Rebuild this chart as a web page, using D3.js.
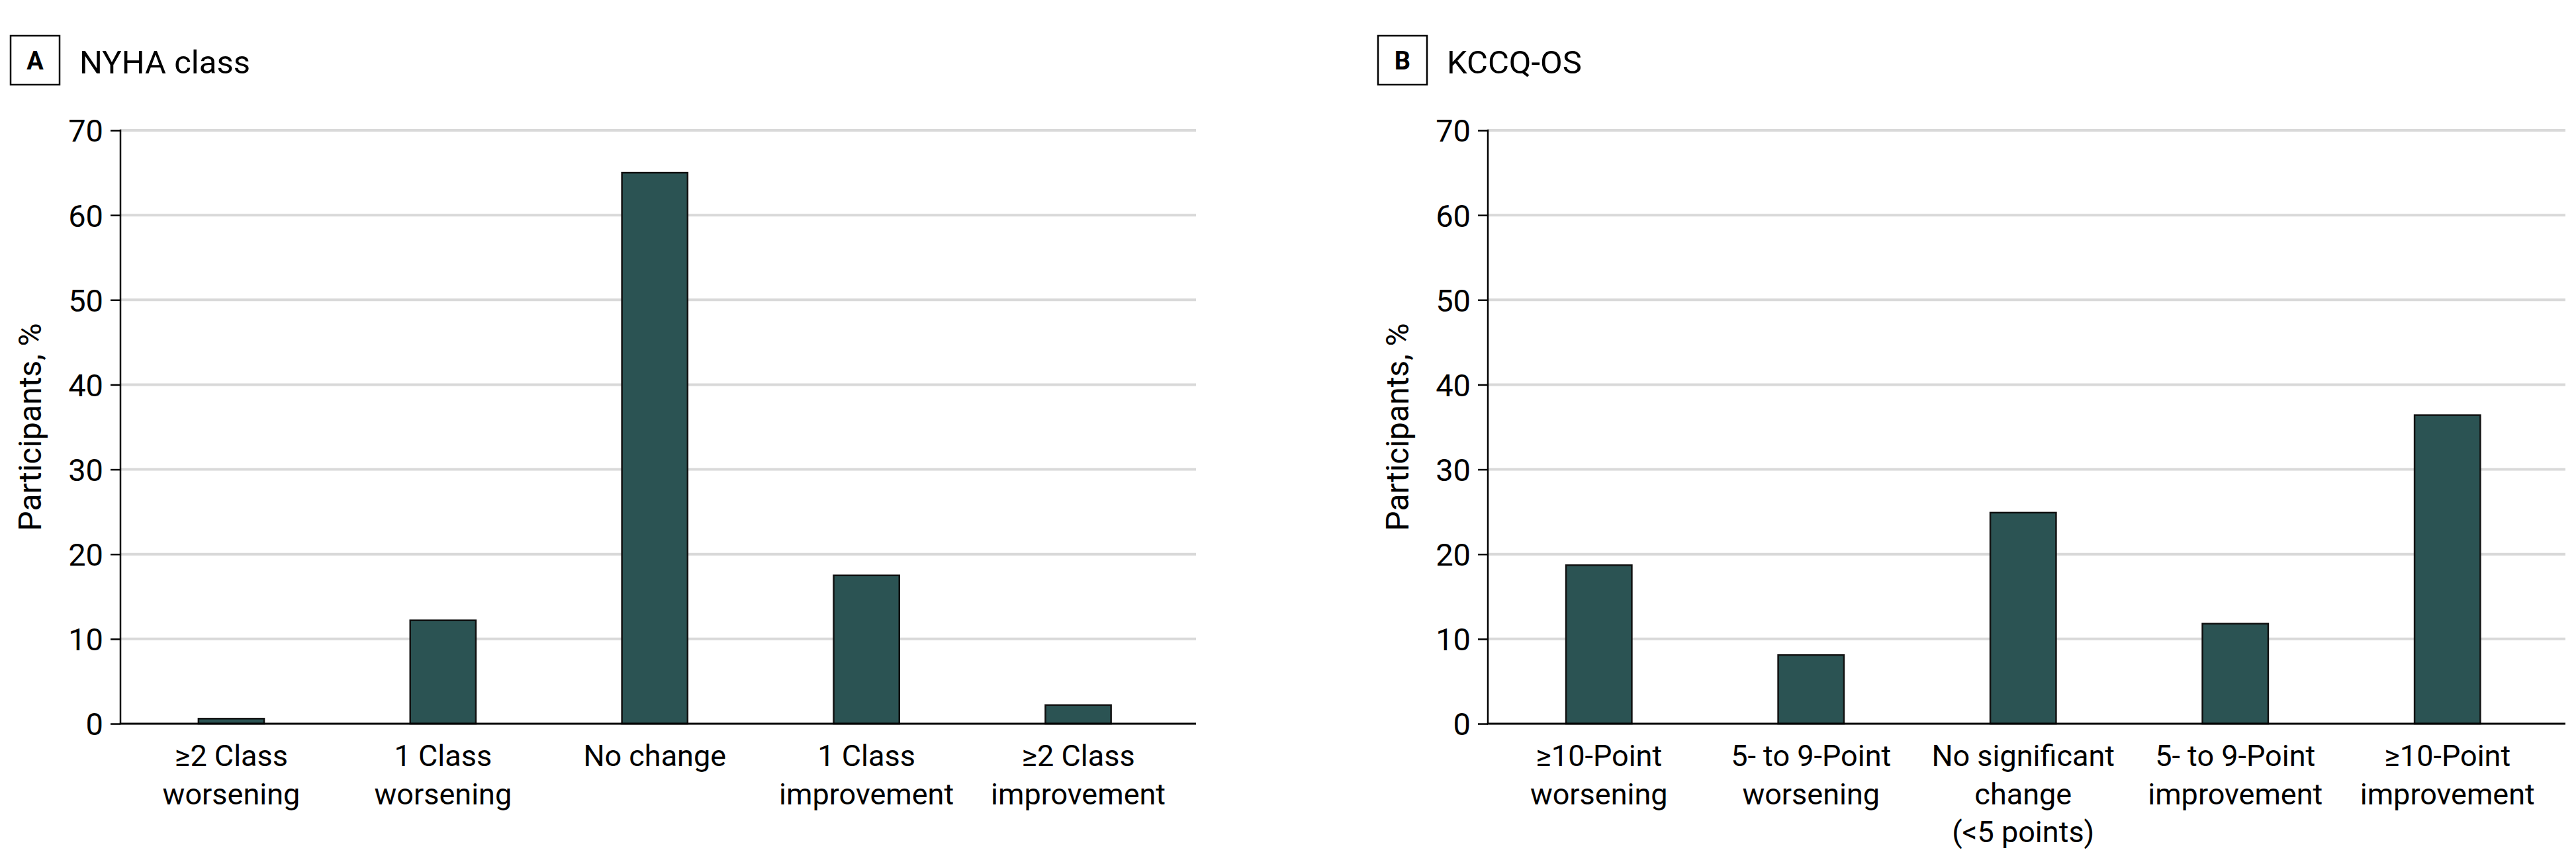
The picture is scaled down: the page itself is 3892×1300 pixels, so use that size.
<!DOCTYPE html>
<html>
<head>
<meta charset="utf-8">
<script src="https://cdn.jsdelivr.net/npm/d3@7"></script>
<style>
  body { margin: 0; background: #fff; }
  text { font-family: "Roboto", sans-serif; fill: #000; }
</style>
</head>
<body>
<div id="chart"></div>
<script>
// panel A: NYHA class
var nyhaCategories = [["≥2 Class", "worsening"], ["1 Class", "worsening"], ["No change"],
  ["1 Class", "improvement"], ["≥2 Class", "improvement"]];
var nyhaValues = [0.6, 12.2, 65.0, 17.5, 2.2];

// panel B: KCCQ-OS
var kccqCategories = [["≥10-Point", "worsening"], ["5- to 9-Point", "worsening"],
  ["No significant", "change", "(<5 points)"], ["5- to 9-Point", "improvement"], ["≥10-Point", "improvement"]];
var kccqValues = [18.7, 8.1, 24.9, 11.8, 36.4];

var yTicks = [0, 10, 20, 30, 40, 50, 60, 70];

var width = 3892, height = 1300;
var barColor = "#2b5353";

var svg = d3.select("#chart").append("svg")
    .attr("width", width)
    .attr("height", height);

var yScale = d3.scaleLinear().domain([0, 70]).range([1094, 197]);

drawPanel(182, 1807, "A", "NYHA class", nyhaCategories, nyhaValues);
drawPanel(2248, 3876, "B", "KCCQ-OS", kccqCategories, kccqValues);

function drawPanel(x0, x1, letter, title, cats, vals) {
    var g = svg.append("g");
    var data = cats.map(function(c, i) { return {key: i, lines: c, value: vals[i]}; });

    var xScale = d3.scaleBand()
        .domain(data.map(function(d) { return d.key; }))
        .range([x0 + 7.5, x1 - 18])
        .paddingInner(0.69)
        .paddingOuter(0.345);

    // panel letter box + title
    g.append("rect")
        .attr("x", x0 - 166).attr("y", 54)
        .attr("width", 74).attr("height", 74)
        .attr("fill", "none").attr("stroke", "#000").attr("stroke-width", 2.5);
    g.append("text")
        .attr("x", x0 - 129).attr("y", 105)
        .attr("text-anchor", "middle")
        .style("font-weight", "bold")
        .style("font-size", "38px")
        .text(letter);
    g.append("text")
        .attr("x", x0 - 62).attr("y", 111)
        .style("font-size", "49px")
        .text(title);

    // gridlines
    g.selectAll(".grid")
        .data(yTicks.filter(function(t) { return t > 0; }))
        .enter().append("line")
        .attr("class", "grid")
        .attr("x1", x0).attr("x2", x1)
        .attr("y1", function(d) { return yScale(d); })
        .attr("y2", function(d) { return yScale(d); })
        .attr("stroke", "#d9d9d9")
        .attr("stroke-width", 4);

    // y axis
    var yAxis = d3.axisLeft(yScale).tickValues(yTicks).tickSize(15).tickPadding(11);
    var ya = g.append("g")
        .attr("transform", "translate(" + x0 + ",0)")
        .call(yAxis);
    ya.select(".domain").remove();
    ya.selectAll(".tick line").attr("stroke", "#000").attr("stroke-width", 2.5);
    ya.selectAll(".tick text").style("font-size", "47px").attr("dy", "0.36em");
    g.append("line")
        .attr("x1", x0).attr("x2", x0)
        .attr("y1", yScale(70) - 1.25).attr("y2", yScale(0))
        .attr("stroke", "#000").attr("stroke-width", 2.5);

    g.append("text")
        .attr("transform", "translate(" + (x0 - 120) + "," + (yScale(35)) + ") rotate(-90)")
        .attr("text-anchor", "middle")
        .style("font-size", "48px")
        .text("Participants, %");

    // bars
    g.selectAll(".bar")
        .data(data)
        .enter().append("rect")
        .attr("class", "bar")
        .attr("x", function(d) { return xScale(d.key); })
        .attr("width", xScale.bandwidth())
        .attr("y", function(d) { return yScale(d.value); })
        .attr("height", function(d) { return yScale(0) - yScale(d.value); })
        .attr("fill", barColor)
        .attr("stroke", "#111")
        .attr("stroke-width", 2.5);

    // x axis line
    g.append("line")
        .attr("x1", x0 - 1.25).attr("x2", x1)
        .attr("y1", yScale(0)).attr("y2", yScale(0))
        .attr("stroke", "#000").attr("stroke-width", 3);

    // category labels
    var lab = g.selectAll(".xlab")
        .data(data)
        .enter().append("text")
        .attr("class", "xlab")
        .attr("text-anchor", "middle")
        .style("font-size", "45px");
    lab.selectAll("tspan")
        .data(function(d) { return d.lines.map(function(l) { return {t: l, x: xScale(d.key) + xScale.bandwidth() / 2}; }); })
        .enter().append("tspan")
        .attr("x", function(d) { return d.x; })
        .attr("y", function(d, i) { return 1158 + i * 57.5; })
        .text(function(d) { return d.t; });
}
</script>
</body>
</html>
